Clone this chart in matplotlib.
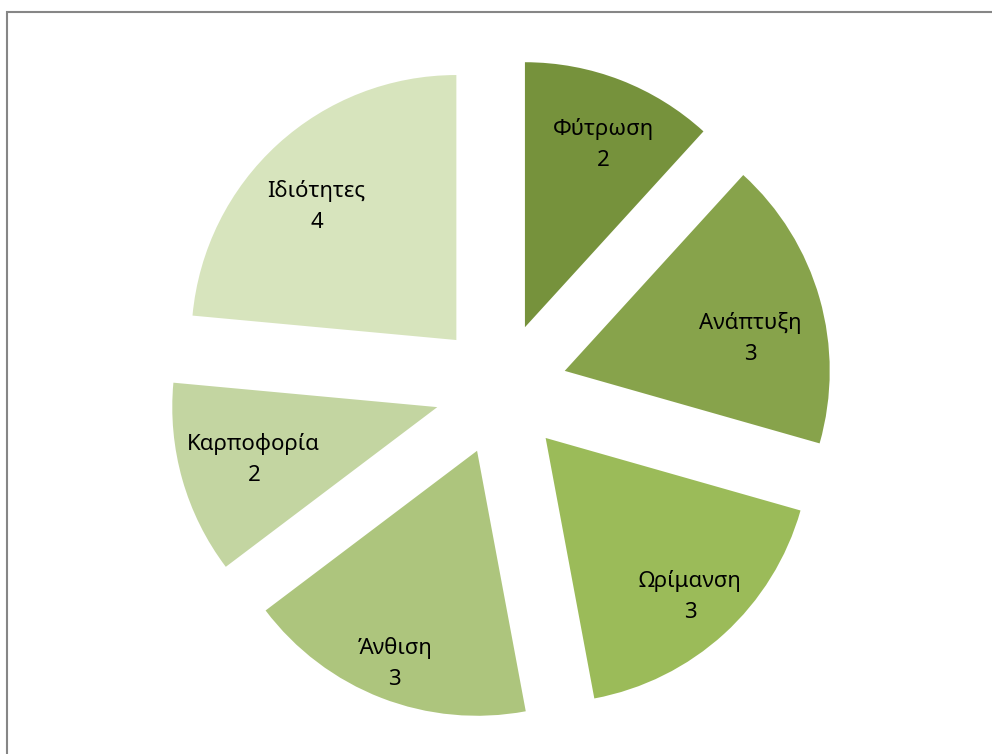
import numpy as np
import matplotlib.pyplot as plt
from matplotlib.patches import Rectangle

stages = ["Φύτρωση", "Ανάπτυξη", "Ωρίμανση", "Άνθιση", "Καρποφορία", "Ιδιότητες"]
counts = [2, 3, 3, 3, 2, 4]
colors = ["#76923C", "#87A34B", "#9BBB59", "#ADC57D", "#C3D5A1", "#D7E4BD"]

# label placement inside each slice: radius fraction and angle nudge (deg)
label_r = [0.75, 0.71, 0.81, 0.86, 0.72, 0.73]
label_dang = [-2, -6, 0, 0, 0, 4]

plt.rcParams['font.family'] = ['Noto Sans', 'DejaVu Sans']

W, H = 992, 754
R = 265.0          # pie radius in pixels
cx, cy = 501, 389  # pie centre, pixels from top-left
explode = 0.25

fig = plt.figure(figsize=(W / 100, H / 100), dpi=100)
ax = fig.add_axes([0, 0, 1, 1])

wedges, _ = ax.pie(counts, colors=colors, startangle=90,
                   counterclock=False, explode=[explode] * len(counts),
                   radius=1, wedgeprops=dict(linewidth=0))

for w, s, c, r, da in zip(wedges, stages, counts, label_r, label_dang):
    mid = np.deg2rad((w.theta1 + w.theta2) / 2)
    ox, oy = explode * np.cos(mid), explode * np.sin(mid)
    a = mid + np.deg2rad(da)
    ax.text(ox + r * np.cos(a), oy + r * np.sin(a), f"{s}\n{c}",
            ha="center", va="center", fontsize=16, color="black",
            linespacing=1.65)

ax.set_xlim(-cx / R, (W - cx) / R)
ax.set_ylim(-(H - cy) / R, cy / R)
ax.set_aspect("equal")
ax.axis("off")

# chart-area border, running off the right and bottom edges
fig.add_artist(Rectangle((7 / W, -0.1), 1.2, 1 - 12 / H + 0.1,
                         transform=fig.transFigure, fill=False,
                         edgecolor="#868686", linewidth=1.5))

fig.savefig("out.png", dpi=100, facecolor="white")
